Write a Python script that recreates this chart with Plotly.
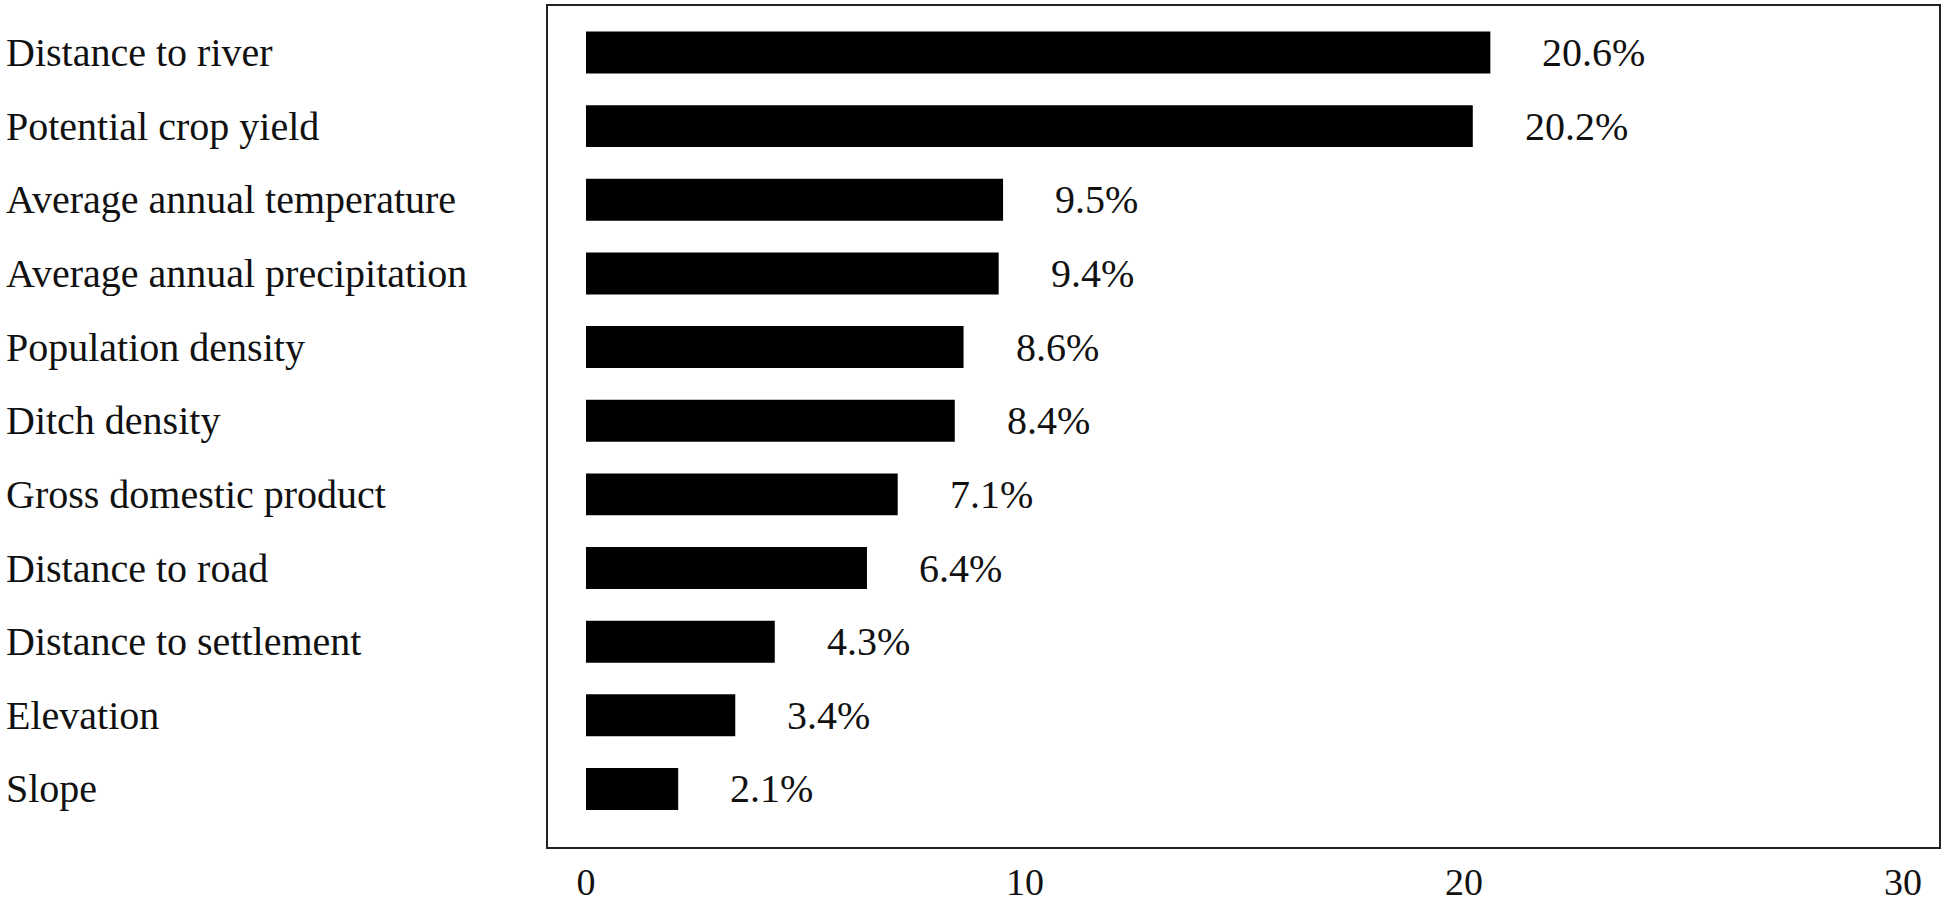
import plotly.graph_objects as go

factors = [
    "Distance to river",
    "Potential crop yield",
    "Average annual temperature",
    "Average annual precipitation",
    "Population density",
    "Ditch density",
    "Gross domestic product",
    "Distance to road",
    "Distance to settlement",
    "Elevation",
    "Slope",
]
importance = [20.6, 20.2, 9.5, 9.4, 8.6, 8.4, 7.1, 6.4, 4.3, 3.4, 2.1]
x_ticks = [0, 10, 20, 30]

FONT = "Liberation Serif, Times New Roman, serif"
W, H = 1946, 907
ML, MR, MT, MB = 548, 7, 6, 60
plot_w = W - ML - MR

fig = go.Figure()
fig.add_trace(go.Bar(
    x=importance,
    y=factors,
    orientation="h",
    marker=dict(color="#000000", line=dict(width=0)),
    hoverinfo="x+y",
))

annotations = []
for f, v in zip(factors, importance):
    annotations.append(dict(
        x=v, y=f, xref="x", yref="y",
        text=f"{v}%", showarrow=False,
        xanchor="left", yanchor="middle", xshift=50,
        font=dict(family=FONT, size=40, color="#111111"),
    ))
    annotations.append(dict(
        x=(4 - ML) / plot_w, y=f, xref="paper", yref="y",
        text=f, showarrow=False,
        xanchor="left", yanchor="middle",
        font=dict(family=FONT, size=40, color="#111111"),
    ))

fig.update_layout(
    width=W, height=H,
    margin=dict(l=ML, r=MR, t=MT, b=MB, pad=0, autoexpand=False),
    paper_bgcolor="white", plot_bgcolor="white",
    showlegend=False,
    bargap=0.43,
    annotations=annotations,
    font=dict(family=FONT, size=40, color="#111111"),
)
fig.update_xaxes(
    range=[-0.866, 30.82],
    tickvals=x_ticks,
    ticktext=[str(t) for t in x_ticks],
    showgrid=False, zeroline=False,
    showline=True, linecolor="#222222", linewidth=2, mirror=True,
    ticks="", ticklabelstandoff=0, automargin=False,
    tickfont=dict(family=FONT, size=38, color="#111111"),
)
fig.update_yaxes(
    type="category",
    categoryorder="array", categoryarray=factors,
    range=[10.788, -0.631],
    showgrid=False, zeroline=False,
    showline=True, linecolor="#222222", linewidth=2, mirror=True,
    ticks="", showticklabels=False, automargin=False,
)

# remove the default 8px page margin so the figure fills the window exactly
fig.write_html(
    "out.html",
    config={"displayModeBar": False},
    post_script="document.body.style.margin='0px';document.body.style.overflow='hidden';",
)
